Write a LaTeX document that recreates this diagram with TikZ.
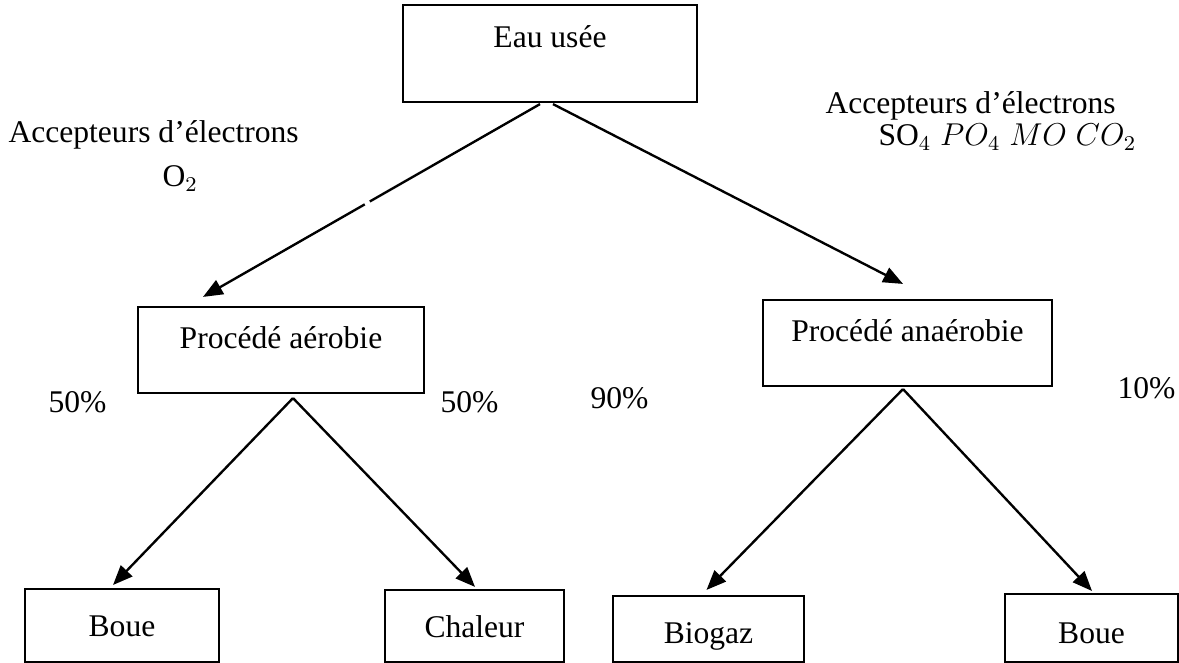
\documentclass[tikz,border=0pt]{standalone}
\usepackage{fontspec}
\setmainfont{Liberation Serif}
\usetikzlibrary{arrows.meta,calc}
\begin{document}
\begin{tikzpicture}[x=0.38pt,y=-0.38pt,>={Triangle[length=7.5pt,width=6pt]},
	font=\fontsize{12}{14}\selectfont,
	boite/.style 2 args={draw,line width=0.8pt,inner xsep=0pt,inner ysep=0pt,text height=#1,text depth=#2},
	fleche/.style={->,line width=0.9pt},
	txt/.style={anchor=base west,inner sep=0pt}]
	\useasboundingbox (0,0) rectangle (1179,663);
	% boites
	\node[boite={16pt}{20.9pt},minimum width=111.7pt] (eau) at (550,53.5) {Eau usée};
	\node[boite={15.6pt}{17.1pt},minimum width=108.7pt] (aero) at (281,350) {Procédé aérobie};
	\node[boite={15.6pt}{17.1pt},minimum width=109.8pt] (anaero) at (907.5,343) {Procédé anaérobie};
	\node[boite={18.2pt}{9.5pt},minimum width=73.7pt] (boueG) at (122,625.5) {Boue};
	\node[boite={17.9pt}{9.5pt},minimum width=68pt] (chaleur) at (474.5,626) {Chaleur};
	\node[boite={17.9pt}{7.2pt},minimum width=72.6pt] (biogaz) at (708.5,629) {Biogaz};
	\node[boite={18.6pt}{7.2pt},minimum width=65.7pt] (boueD) at (1091.5,628) {Boue};
	% textes
	\node[txt] (accG) at (8,143) {Accepteurs d’électrons};
	\node[txt] (o2) at (162,187) {$\mathrm{O}_2$};
	\node[txt] (accD) at (825,114) {Accepteurs d’électrons};
	\node[txt] (sopo) at (878,146) {$\mathrm{SO}_4\;PO_4\;MO\;CO_2$};
	\node[txt] (pA) at (48,412) {50\%};
	\node[txt] (pB) at (440,412) {50\%};
	\node[txt] (pC) at (590,408) {90\%};
	\node[txt] (pD) at (1117,398) {10\%};
	% fleches
	\coordinate (a1) at ($(eau.south)+(-10,1)$);
	\coordinate (a2) at ($(aero.north)+(-78,-9)$);
	\draw[line width=0.9pt] (a1) -- ($(a1)!0.505!(a2)$);
	\draw[fleche] ($(a1)!0.52!(a2)$) -- (a2);
	\draw[fleche] ($(eau.south)+(3,1)$) -- ($(anaero.north)+(-4.5,-15)$);
	\draw[fleche] ($(aero.south)+(12,4)$) -- ($(boueG.north)+(-9,-3)$);
	\draw[fleche] ($(aero.south)+(12,4)$) -- ($(chaleur.north)+(0.5,-2)$);
	\draw[fleche] ($(anaero.south)+(-4.5,2)$) -- ($(biogaz.north)+(-2,-5)$);
	\draw[fleche] ($(anaero.south)+(-4.5,2)$) -- ($(boueD.north)+(0.5,-2)$);
\end{tikzpicture}
\end{document}
